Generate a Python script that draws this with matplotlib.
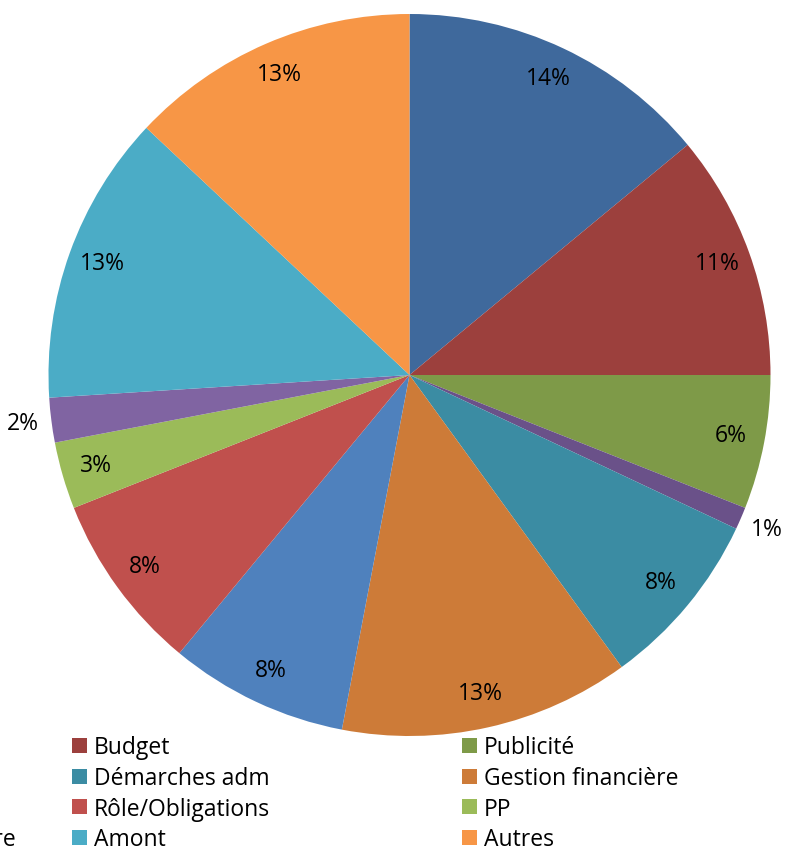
import matplotlib
matplotlib.use("Agg")
import matplotlib.pyplot as plt
from matplotlib.patches import Rectangle
import numpy as np

# Share of each theme (percent), clockwise from 12 o'clock
categories = [
    "Fiscalité", "Budget", "Publicité",
    "Assurances", "Démarches adm", "Gestion financière",
    "Ressources humaines", "Rôle/Obligations", "PP",
    "Relations avec le partenaire", "Amont", "Autres",
]
shares = [14, 11, 6, 1, 8, 13, 8, 8, 3, 2, 13, 13]
colors = [
    "#3F699C", "#9C403D", "#7E9A48",
    "#6A5189", "#3B8CA3", "#CD7B38",
    "#4F81BD", "#C0504D", "#9BBB59",
    "#8064A2", "#4BACC6", "#F79646",
]

W, H, DPI = 787, 849, 100
plt.rcParams["font.family"] = ["Open Sans", "DejaVu Sans"]
FS = 16.5

fig = plt.figure(figsize=(W / DPI, H / DPI), dpi=DPI)
fig.patch.set_facecolor("white")

# pie area in pixels: centre (409.5, 375), radius 361
cx, cy, R = 409.5, 375.0, 361.0
ax = fig.add_axes([(cx - R) / W, (H - cy - R) / H, 2 * R / W, 2 * R / H])

wedges, _, autotexts = ax.pie(
    shares, colors=colors, startangle=90, counterclock=False, radius=1,
    autopct=lambda p: f"{p:.0f}%", pctdistance=0.905,
    wedgeprops=dict(linewidth=0), textprops=dict(fontsize=FS, color="black"),
)
ax.set_xlim(-1, 1)
ax.set_ylim(-1, 1)
ax.set_aspect("equal")
ax.axis("off")

# thin slices get their label just outside the rim
for w, t, v in zip(wedges, autotexts, shares):
    if v <= 2:
        ang = np.deg2rad((w.theta1 + w.theta2) / 2)
        r = 1.08
        t.set_position((r * np.cos(ang), r * np.sin(ang)))
        t.set_ha("center")
        t.set_va("center")
    t.set_clip_on(False)

# legend: three columns, row-major; the first column runs past the left edge
renderer = fig.canvas.get_renderer()
probe = fig.text(0, 0, categories[9], fontsize=FS)
lab_w = probe.get_window_extent(renderer).width
probe.remove()
col_x = [16 - lab_w - 22, 72, 462]
row_y = [745.5, 776, 806.5, 837]
sq = 15
for i, (lab, col) in enumerate(zip(categories, colors)):
    r, c = divmod(i, 3)
    x0 = col_x[c]
    yc = row_y[r]
    fig.patches.append(Rectangle((x0 / W, (H - yc - sq / 2) / H), sq / W, sq / H,
                                 transform=fig.transFigure, facecolor=col,
                                 edgecolor="none"))
    fig.text((x0 + 22) / W, (H - yc) / H, lab, fontsize=FS, ha="left",
             va="center_baseline", color="black")

fig.savefig("out.png", dpi=DPI, facecolor="white")
